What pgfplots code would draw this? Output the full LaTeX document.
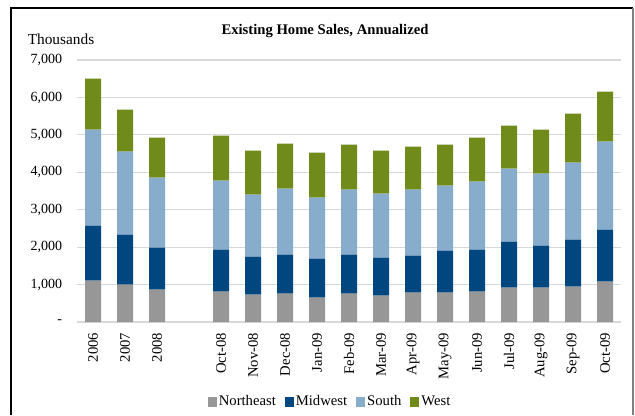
\documentclass[border=0pt]{standalone}
\usepackage{pgfplots}
\pgfplotsset{compat=1.18}
\usepackage{pgfplotstable}
\usepackage{fontspec}
\setmainfont{Liberation Serif}
\definecolor{cNE}{RGB}{151,151,151}
\definecolor{cMW}{RGB}{0,71,128}
\definecolor{cSO}{RGB}{135,172,204}
\definecolor{cWE}{RGB}{112,139,26}
\definecolor{cGrid}{RGB}{217,217,217}
\pgfplotstableread{
x NE MW SO WE
0 1104 1469 2565 1362
1 997 1336 2217 1122
2 864 1122 1870 1068
4 810 1122 1844 1202
5 730 1015 1657 1175
6 757 1042 1763 1202
7 650 1042 1629 1203
8 757 1042 1736 1202
9 703 1016 1709 1149
10 784 988 1763 1149
11 784 1122 1736 1095
12 810 1122 1817 1175
13 917 1229 1950 1149
14 917 1122 1924 1175
15 944 1255 2057 1309
16 1077 1390 2350 1336
}\sales
\begin{document}
\begin{tikzpicture}
\begin{scope}[x=0.75pt,y=0.75pt]
\useasboundingbox (0,0) rectangle (635,415);
\fill[white] (0,0) rectangle (635,415);
\draw[black,line width=1.5pt] (11,0) -- (11,407) -- (633,407);
\draw[gray,line width=1pt] (633,407) -- (633,0);
\node[font=\fontsize{11}{13}\selectfont\bfseries] at (325,384) {Existing Home Sales, Annualized};
\node[font=\fontsize{11.5}{13}\selectfont] at (61,376) {Thousands};
\end{scope}
\begin{axis}[
  at={(57.75pt,69.75pt)}, anchor=south west,
  scale only axis, width=408pt, height=196.5pt,
  ybar stacked, bar width=12pt,
  xmin=-0.5, xmax=16.5, ymin=0, ymax=7000,
  axis lines*=left, axis line style={draw=none},
  major tick length=0pt,
  ymajorgrids, grid style={draw=cGrid, line width=0.8pt},
  ytick={0,1000,...,7000},
  yticklabels={{-},{1,000},{2,000},{3,000},{4,000},{5,000},{6,000},{7,000}},
  yticklabel style={font=\fontsize{10.5}{12}\selectfont, anchor=east, inner sep=0pt, xshift=-11pt},
  xtick={0,1,2,4,5,6,7,8,9,10,11,12,13,14,15,16},
  xticklabels={2006,2007,2008,Oct-08,Nov-08,Dec-08,Jan-09,Feb-09,Mar-09,Apr-09,May-09,Jun-09,Jul-09,Aug-09,Sep-09,Oct-09},
  xticklabel style={font=\fontsize{11}{13}\selectfont, rotate=90, anchor=east, inner sep=0pt, xshift=-8pt},
  legend columns=-1,
  legend style={at={(0.465,-0.305)}, anchor=center, draw=none, fill=none,
    font=\fontsize{11}{13}\selectfont,
    /tikz/every even column/.append style={column sep=5pt},
    nodes={inner xsep=1.5pt}},
  legend image code/.code={\fill[#1,draw=none] (0pt,-3.5pt) rectangle (7pt,3.5pt);},
]
\addplot[fill=cNE,draw=none] table[x=x,y=NE]{\sales};
\addplot[fill=cMW,draw=none] table[x=x,y=MW]{\sales};
\addplot[fill=cSO,draw=none] table[x=x,y=SO]{\sales};
\addplot[fill=cWE,draw=none] table[x=x,y=WE]{\sales};
\legend{Northeast,Midwest,South,West}
\end{axis}
\end{tikzpicture}
\end{document}
